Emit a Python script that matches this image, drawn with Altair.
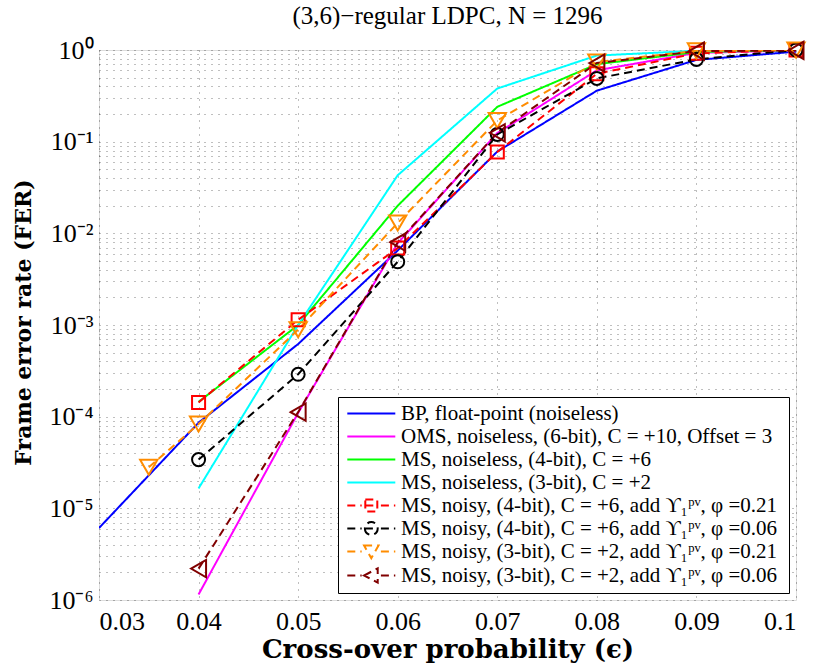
import altair as alt
import pandas as pd

series_names = [
    "BP, float-point (noiseless)",
    "OMS, noiseless, (6-bit), C = +10, Offset = 3",
    "MS, noiseless, (4-bit), C = +6",
    "MS, noiseless, (3-bit), C = +2",
    "MS, noisy, (4-bit), C = +6,  add ϒ₁ᵖᵛ, φ =0.21",
    "MS, noisy, (4-bit), C = +6,  add ϒ₁ᵖᵛ, φ =0.06 ",
    "MS, noisy, (3-bit), C = +2,  add ϒ₁ᵖᵛ, φ =0.21",
    "MS, noisy, (3-bit), C = +2,  add ϒ₁ᵖᵛ, φ =0.06 ",
]
colors = ["#0000FF", "#FF00FF", "#00FF00", "#00FFFF", "#FF0000", "#000000", "#FF8C00", "#800000"]

x_bp = [0.03, 0.04, 0.05, 0.06, 0.07, 0.08, 0.09, 0.1]
y_bp = [6.1e-6, 8.6e-5, 6.2e-4, 6.5e-3, 0.078, 0.36, 0.78, 0.96]
x_std = [0.04, 0.05, 0.06, 0.07, 0.08, 0.09, 0.1]
y_oms = [1.15e-6, 1.1e-4, 7.8e-3, 0.124, 0.60, 0.93, 0.99]
y_ms4 = [1.45e-4, 1.0e-3, 0.020, 0.24, 0.70, 0.95, 1.0]
y_ms3 = [1.65e-5, 1.0e-3, 0.043, 0.38, 0.87, 0.98, 1.0]
y_n4a = [1.43e-4, 1.14e-3, 6.9e-3, 0.077, 0.55, 0.92, 1.0]
y_n4b = [3.4e-5, 2.9e-4, 4.9e-3, 0.12, 0.49, 0.79, 1.0]
x_n3a = [0.035, 0.04, 0.05, 0.06, 0.07, 0.08, 0.09, 0.1]
y_n3a = [2.8e-5, 8.3e-5, 8.9e-4, 0.013, 0.17, 0.74, 0.98, 1.0]
y_n3b = [2.2e-6, 1.12e-4, 8.0e-3, 0.125, 0.72, 0.97, 0.99]

x_ticks = [0.03, 0.04, 0.05, 0.06, 0.07, 0.08, 0.09, 0.1]
y_ticks = [m * 10.0 ** e for e in range(-6, 0) for m in range(1, 10)] + [1.0]

series_xy = [
    (x_bp, y_bp), (x_std, y_oms), (x_std, y_ms4), (x_std, y_ms3),
    (x_std, y_n4a), (x_std, y_n4b), (x_n3a, y_n3a), (x_std, y_n3b),
]
rows = []
for name, (xs, ys) in zip(series_names, series_xy):
    for xv, yv in zip(xs, ys):
        rows.append({"series": name, "x": xv, "y": yv})
df = pd.DataFrame(rows)

dashes = [[1, 0]] * 4 + [[8, 5]] * 4
marker_shapes = {4: "square", 5: "circle", 6: "triangle-down", 7: "triangle-left"}
marker_sizes = {4: 170, 5: 170, 6: 300, 7: 300}

legend_paths = [
    "M-0.9,0H5.1",
    "M-0.9,0H5.1",
    "M-0.9,0H5.1",
    "M-0.9,0H5.1",
    "M-0.9,0H0.9M3.3,0H5.1M1.35,0H2.85M1.35,-0.75H2.85V0.75H1.35Z",
    "M-0.9,0H0.9M3.3,0H5.1M1.3,0H2.9M1.3,0A0.8,0.8 0 1,0 2.9,0A0.8,0.8 0 1,0 1.3,0",
    "M-0.9,0H0.9M3.3,0H5.1M1.2,-0.75H3.0L2.1,0.85Z",
    "M-0.9,0H0.9M3.3,0H5.1M1.2,0L2.9,-0.9V0.9Z",
]

color_scale = alt.Scale(domain=series_names, range=colors)

ylabel_expr = (
    "abs(log(datum.value)/LN10 - round(log(datum.value)/LN10)) > 0.001 ? '' : "
    "round(log(datum.value)/LN10) == 0 ? '10⁰' : "
    "round(log(datum.value)/LN10) == -1 ? '10⁻¹' : "
    "round(log(datum.value)/LN10) == -2 ? '10⁻²' : "
    "round(log(datum.value)/LN10) == -3 ? '10⁻³' : "
    "round(log(datum.value)/LN10) == -4 ? '10⁻⁴' : "
    "round(log(datum.value)/LN10) == -5 ? '10⁻⁵' : '10⁻⁶'"
)

grid_kw = dict(grid=True, gridDash=[1, 6], gridColor="#000", gridOpacity=0.5, gridWidth=1,
               ticks=False, domain=False)

x_enc = alt.X("x:Q", scale=alt.Scale(domain=[0.03, 0.1], nice=False, zero=False),
              axis=alt.Axis(values=x_ticks, format=".2~f", title="Cross-over probability (ϵ)",
                            labelFont="Liberation Serif", labelFontSize=26, labelPadding=8,
                            titleFont="DejaVu Serif", titleFontSize=26, titleFontWeight="bold",
                            titlePadding=2, labelColor="#000", titleColor="#000", **grid_kw))
y_enc = alt.Y("y:Q", scale=alt.Scale(type="log", domain=[1e-6, 1], nice=False),
              axis=alt.Axis(values=y_ticks, labelExpr=ylabel_expr, title="Frame error rate (FER)",
                            labelFont="Liberation Serif", labelFontSize=26, labelPadding=6,
                            titleFont="DejaVu Serif", titleFontSize=22, titleFontWeight="bold",
                            titlePadding=13, titleY=272, labelColor="#000", titleColor="#000",
                            labelOverlap=False, **grid_kw))

base = alt.Chart(df)

leg_kw = dict(title=None, orient="bottom-right", offset=7,
              labelFont="Liberation Serif", labelFontSize=21, labelLimit=700, labelColor="#000",
              symbolSize=256, symbolStrokeWidth=2, symbolOpacity=1, symbolDash=[1, 0],
              symbolFillColor="transparent",
              labelOffset=36, rowPadding=1, padding=6,
              strokeColor="#000", fillColor="#fff")

legend_layer = base.transform_filter("false").mark_point(filled=False, strokeWidth=2, opacity=1).encode(
    x=x_enc, y=y_enc,
    color=alt.Color("series:N", scale=color_scale, sort=None, legend=alt.Legend(**leg_kw)),
    shape=alt.Shape("series:N", scale=alt.Scale(domain=series_names, range=legend_paths), sort=None,
                    legend=alt.Legend(**leg_kw)),
)

lines = base.mark_line(strokeWidth=2, clip=True).encode(
    x="x:Q", y="y:Q",
    color=alt.Color("series:N", scale=color_scale),
    strokeDash=alt.StrokeDash("series:N", scale=alt.Scale(domain=series_names, range=dashes), legend=None),
    detail="series:N",
)

layers = [legend_layer, lines]
for i, shp in marker_shapes.items():
    layers.append(
        base.transform_filter(alt.datum.series == series_names[i])
        .mark_point(shape=shp, size=marker_sizes[i], filled=False, strokeWidth=2, opacity=1)
        .encode(x="x:Q", y="y:Q", color=alt.Color("series:N", scale=color_scale))
    )

chart = alt.layer(*layers).properties(
    width=697, height=550,
    title=alt.Title("(3,6)−regular LDPC, N = 1296", font="Liberation Serif", fontSize=25,
                    fontWeight="normal", color="#000", offset=8),
    autosize=alt.AutoSizeParams(type="none"),
    padding={"left": 99, "top": 50, "right": 19, "bottom": 69},
).configure_view(stroke="#000", strokeWidth=1).configure(background="#fff")

chart.save("out.html", embed_options={"renderer": "svg", "actions": False})
